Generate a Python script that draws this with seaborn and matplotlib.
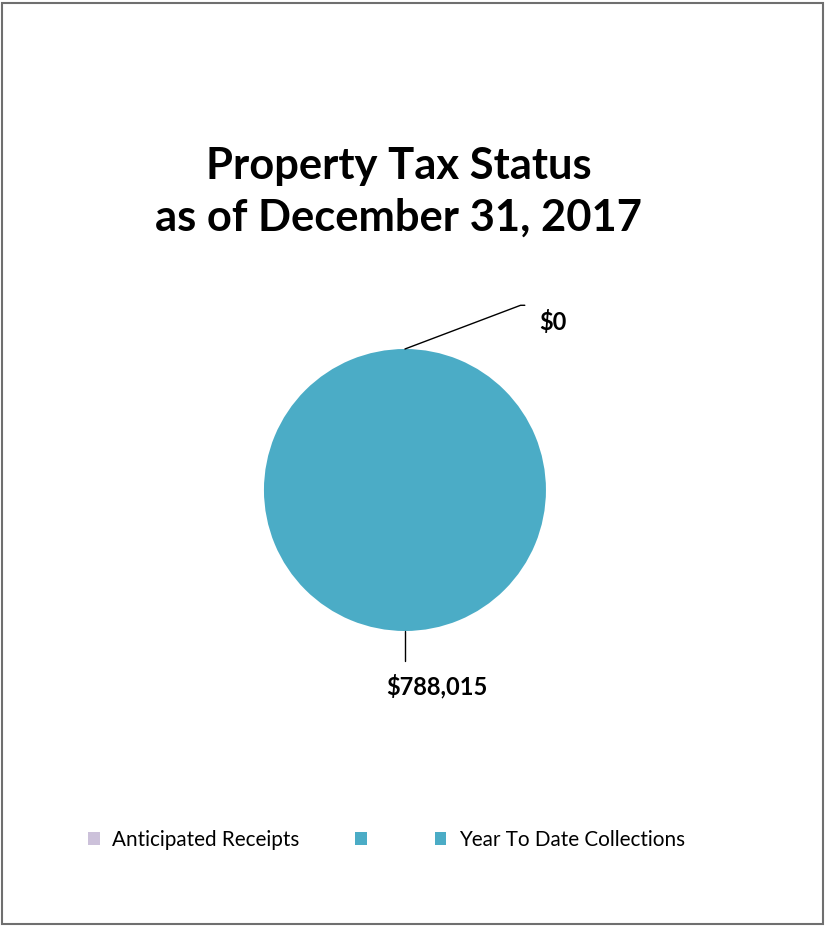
import matplotlib
matplotlib.use("Agg")
import matplotlib.pyplot as plt
import seaborn as sns
from matplotlib.patches import Patch, Rectangle

# Chart data
categories = ["Anticipated Receipts", "", "Year To Date Collections"]
values = [0, None, 788015]
colors = ["#CCC1DA", "#4BACC6", "#4BACC6"]
title = "Property Tax Status\nas of December 31, 2017"

sns.set_theme(style="white")
plt.rcParams["font.family"] = ["Lato", "DejaVu Sans"]
plt.rcParams["text.color"] = "black"

fig = plt.figure(figsize=(8.25, 9.26), dpi=100)

# outer frame
fig.patches.append(Rectangle((0.003, 0.002), 0.994, 0.995, transform=fig.transFigure,
                             fill=False, edgecolor="#6f6f6f", linewidth=1.5))

fig.text(0.483, 0.793, title, ha="center", va="center", fontsize=31.3,
         fontweight="bold", color="black", linespacing=1.35)

# pie axes: radius 1 == ~141 px
ax = fig.add_axes([0.2174, 0.2272, 0.5469, 0.4873])
pie_vals = [v for v in values if v is not None]
pie_cols = [c for v, c in zip(values, colors) if v is not None]
wedges, _ = ax.pie(pie_vals, colors=pie_cols, startangle=90, counterclock=False,
                   radius=1.0, wedgeprops=dict(linewidth=0))
ax.set_xlim(-1.6, 1.6)
ax.set_ylim(-1.6, 1.6)
ax.set_aspect("equal")
ax.axis("off")

# data labels with leader lines
ax.plot([0, 0.82, 0.85], [1.0, 1.31, 1.31], color="black", lw=1)
ax.text(0.95, 1.19, f"${pie_vals[0]:,.0f}", ha="left", va="center",
        fontsize=17, fontweight="bold", color="black")
ax.plot([0, 0], [-1.0, -1.21], color="black", lw=1)
ax.text(0.23, -1.39, f"${pie_vals[1]:,.0f}", ha="center", va="center",
        fontsize=17, fontweight="bold", color="black")

handles = [Patch(facecolor=c, edgecolor="none") for c in colors]
leg = fig.legend(handles, categories, loc="center", bbox_to_anchor=(0.4685, 0.093),
                 ncol=3, frameon=False, fontsize=14.9, handlelength=0.55,
                 handleheight=0.55, handletextpad=0.6, columnspacing=2.7)
for t in leg.get_texts():
    t.set_color("black")

fig.savefig("out.png", dpi=100)
